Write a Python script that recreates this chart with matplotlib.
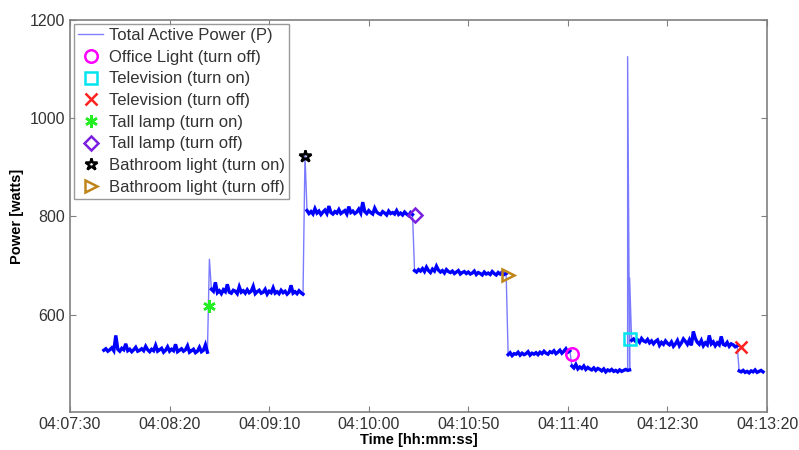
import numpy as np
import matplotlib
matplotlib.use("Agg")
import matplotlib.pyplot as plt
from matplotlib.ticker import FuncFormatter
from matplotlib.lines import Line2D

plt.rcParams['font.family'] = ['Liberation Sans', 'DejaVu Sans']

# time axis: seconds after 04:07:30
t0 = 4 * 3600 + 7 * 60 + 30

# start second of each constant-load segment, sampled once per second
seg_start = [17, 71, 119, 173, 220, 252, 282, 336]
seg_power = [
    [528, 531, 526, 529, 533, 527, 558, 530, 526, 532, 529, 541, 527, 530, 525, 529, 534, 526,
     528, 531, 527, 536, 529, 525, 530, 527, 538, 526, 529, 532, 524, 528, 535, 526, 530, 527,
     540, 525, 528, 531, 526, 529, 537, 524, 527, 530, 523, 526, 534, 525, 528, 539, 524],
    [652, 648, 666, 645, 649, 643, 651, 647, 662, 646, 644, 650, 648, 643, 657, 646, 649,
     644, 651, 645, 648, 658, 643, 647, 650, 644, 646, 652, 642, 648, 645, 655, 644, 647, 643,
     650, 645, 648, 642, 646, 660, 644, 647, 643, 649, 645, 642],
    [812, 806, 810, 805, 816, 807, 811, 804, 809, 813, 806, 821, 808, 805, 810, 807, 814,
     806, 809, 812, 805, 820, 808, 811, 806, 809, 815, 807, 829, 810, 806, 812, 808, 805, 817,
     809, 806, 804, 810, 807, 803, 811, 806, 808, 805, 812, 804, 807, 803, 809, 805, 802, 808, 804],
    [690, 687, 692, 689, 694, 688, 697, 690, 686, 693, 689, 699, 691, 687, 690, 685, 692, 688,
     686, 689, 684, 687, 690, 683, 686, 688, 684, 687, 683, 685, 689, 682, 686, 684, 681, 687,
     683, 685, 682, 688, 684, 681, 686, 683, 687, 682, 684],
    [519, 523, 517, 521, 520, 524, 518, 522, 519, 521, 525, 518, 522, 520, 523, 519, 524, 521,
     526, 522, 520, 525, 523, 527, 521, 524, 528, 522, 526, 531, 524, 527],
    [496, 492, 499, 490, 494, 491, 496, 489, 493, 490, 488, 492, 487, 491, 489, 486, 490, 484,
     488, 486, 489, 485, 487, 484, 488, 485, 487, 489, 487, 488],
    [548, 551, 546, 549, 544, 552, 547, 545, 550, 543, 547, 541, 546, 549, 538, 544,
     540, 547, 542, 539, 545, 536, 541, 548, 537, 543, 551, 546, 540, 549, 538, 566, 552, 544,
     540, 548, 537, 543, 539, 558, 541, 545, 537, 543, 539, 556, 540, 538, 544, 536, 541, 539,
     535, 537],
    [486, 484, 487, 483, 485, 482, 486, 484, 488, 483, 485, 487, 484],
]

# switching transients
spike_time = [70, 118, 280, 281]
spike_power = [713, 925, 1125, 675]

# appliance events
event_labels = ["Office Light (turn off)", "Television (turn on)", "Television (turn off)",
                "Tall lamp (turn on)", "Tall lamp (turn off)", "Bathroom light (turn on)",
                "Bathroom light (turn off)"]
event_time = [252, 281, 337, 70, 173, 118, 220]
event_power = [521, 550, 534, 617, 803, 924, 682]
event_marker = ["o", "s", "x", (6, 2, 0), "D", "*", ">"]
event_color = ["#ff00ff", "#00e5ee", "#ff2020", "#22ee22", "#7a1fe0", "#000000", "#c0851a"]

seg_t = [s + np.arange(len(p)) for s, p in zip(seg_start, seg_power)]
t = np.concatenate(seg_t + [np.array(spike_time)])
power = np.concatenate([np.array(p, dtype=float) for p in seg_power] + [np.array(spike_power, float)])
order = np.argsort(t, kind="stable")
t, power = t[order], power[order]

fig = plt.figure(figsize=(7.99, 4.5), dpi=100)
ax = fig.add_axes([0.0876, 0.084, 0.8724, 0.872])

# full trace (thin, shows the switching jumps), then the dense steady-state bands
ax.plot(t, power, color="#7b7bff", lw=1.0)
for st, p in zip(seg_t, seg_power):
    ax.plot(st, p, color="#0000ff", lw=2.4, solid_joinstyle="miter")

handles = [Line2D([], [], color="#8080ff", lw=1.0, label="Total Active Power (P)")]
for lab, x, y, m, c in zip(event_labels, event_time, event_power, event_marker, event_color):
    filled = m in ("x", (6, 2, 0))
    ms = 7 if m == "D" else 9
    kw = dict(linestyle="none", marker=m, markersize=ms,
              markerfacecolor=c if filled else "none", markeredgecolor=c, markeredgewidth=1.8)
    ax.plot([x], [y], zorder=5, **kw)
    handles.append(Line2D([], [], label=lab, **kw))

ax.set_xlim(0, 350)
ax.set_ylim(402, 1200)
ax.set_xticks(np.arange(0, 351, 50))
ax.set_yticks([600, 800, 1000, 1200])


def hms(v, pos):
    s = int(round(v)) + t0
    return f"{s // 3600:02d}:{(s % 3600) // 60:02d}:{s % 60:02d}"


ax.xaxis.set_major_formatter(FuncFormatter(hms))
ax.tick_params(direction="in", top=True, right=True, length=4, color="#808080",
               labelsize=11.5, labelcolor="#333333")
for sp in ax.spines.values():
    sp.set_color("#808080")
    sp.set_linewidth(1.2)

ax.set_xlabel("Time [hh:mm:ss]", fontsize=10.5, fontweight="bold", labelpad=1)
ax.set_ylabel("Power [watts]", fontsize=10.5, fontweight="bold", labelpad=4)

leg = ax.legend(handles=handles, loc="upper left", fontsize=12.0, frameon=True, fancybox=False,
                borderaxespad=0.25, handlelength=1.5, handletextpad=0.35, labelspacing=0.4,
                borderpad=0.25)
leg.get_frame().set_edgecolor("#808080")
leg.get_frame().set_linewidth(1.0)
for txt in leg.get_texts():
    txt.set_color("#333333")

fig.savefig("out.png", dpi=100)
